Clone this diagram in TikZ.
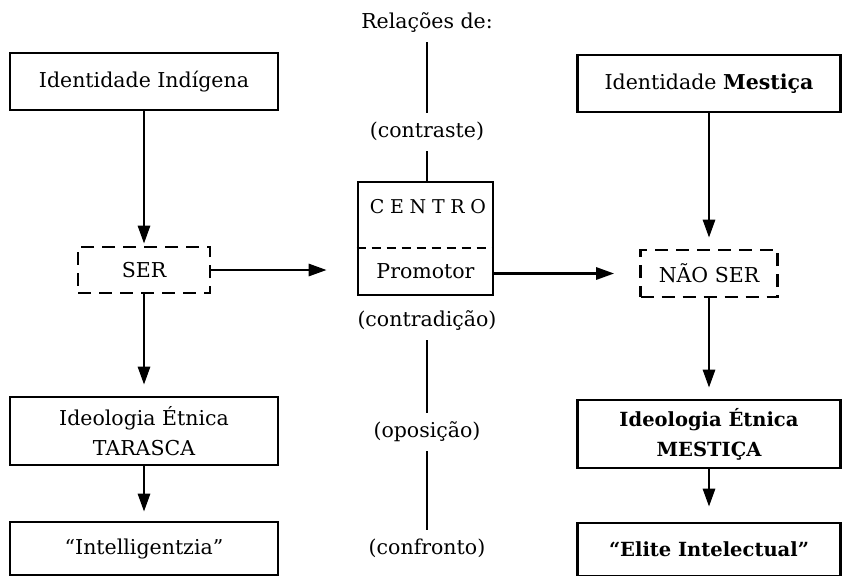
\documentclass[tikz,border=0pt]{standalone}
\usepackage{fontspec}
\setmainfont{DejaVu Serif}
\usetikzlibrary{arrows.meta}

\begin{document}
\begin{tikzpicture}[x=1pt,y=-1pt]

			\tikzstyle{box}=[draw, line width=2.6pt, inner sep=0pt, align=center, font=\fontsize{20.5}{30}\selectfont]
			\tikzstyle{dashbox}=[box, dash pattern=on 13pt off 8pt]
			\tikzstyle{rel label}=[inner sep=0pt, outer sep=9pt, text height=15pt, text depth=5pt, font=\fontsize{20.5}{24}\selectfont]
			\tikzstyle{rel line}=[line width=1.8pt]
			\tikzstyle{flow}=[line width=2.8pt, -{Triangle[length=18pt,width=12pt]}, shorten >=11pt]

		\useasboundingbox (0,0) rectangle (844,576);

		%left column
		\node [box, minimum width=268pt, minimum height=57pt] (indig) at (144,81.5) {Identidade Indígena};
		\node [dashbox, minimum width=132pt, minimum height=46pt] (ser) at (144,270) {SER};
		\node [box, minimum width=268pt, minimum height=68pt] (tarasca) at (144,431) {Ideologia Étnica\\TARASCA};
		\node [box, minimum width=268pt, minimum height=53pt] (intel) at (144,548.5) {“Intelligentzia”};

		%right column
		\node [box, minimum width=263pt, minimum height=57pt] (mestica) at (709,83.5) {Identidade \textbf{Mestiça}};
		\node [dashbox, minimum width=137pt, minimum height=47pt] (naoser) at (709,273.5) {NÃO SER};
		\node [box, minimum width=263pt, minimum height=68pt, font=\fontsize{19.5}{30}\selectfont\bfseries] (ideomest) at (709,434) {Ideologia Étnica\\MESTIÇA};
		\node [box, minimum width=263pt, minimum height=53pt, font=\fontsize{19.5}{30}\selectfont\bfseries] (elite) at (709,549.5) {“Elite Intelectual”};

		%centre box
		\node [box, minimum width=135pt, minimum height=113pt] (centro) at (425.5,238.5) {};
		\node [font=\fontsize{19}{22}\selectfont\addfontfeatures{LetterSpace=30}] (centrotxt) at (428,207) {CENTRO};
		\node [font=\fontsize{20.5}{22}\selectfont] (promotor) at (425.5,271) {Promotor};
		\draw [line width=2.4pt, dash pattern=on 9pt off 6pt] ([yshift=-9.5pt]centro.west) -- ([yshift=-9.5pt]centro.east);

		%relations
		\node [rel label] (rel) at (427,23) {Relações de:};
		\node [rel label] (contraste) at (427,132) {(contraste)};
		\node [rel label] (contradicao) at (427,321) {(contradição)};
		\node [rel label] (oposicao) at (427,432) {(oposição)};
		\node [rel label] (confronto) at (427,549) {(confronto)};
		\draw [rel line] (rel) -- (contraste);
		\draw [rel line] (contraste) -- (contraste |- centro.north);
		\draw [rel line] (contradicao) -- (oposicao);
		\draw [rel line] (oposicao) -- (confronto);

		%vertical arrows
		\draw [flow, shorten >=2pt] (indig) -- (ser);
		\draw [flow] (ser) -- (tarasca);
		\draw [flow, shorten >=9pt] (tarasca) -- (intel);
		\draw [flow] (mestica) -- (naoser);
		\draw [flow] (naoser) -- (ideomest);
		\draw [flow, shorten >=15pt] (ideomest) -- (elite);

		%horizontal arrows
		\draw [flow, shorten >=30pt] (ser.east) -- (ser.east -| centro.west);
		\draw [flow, shorten >=25pt] (centro.east |- naoser.west) -- (naoser.west);

\end{tikzpicture}
\end{document}
